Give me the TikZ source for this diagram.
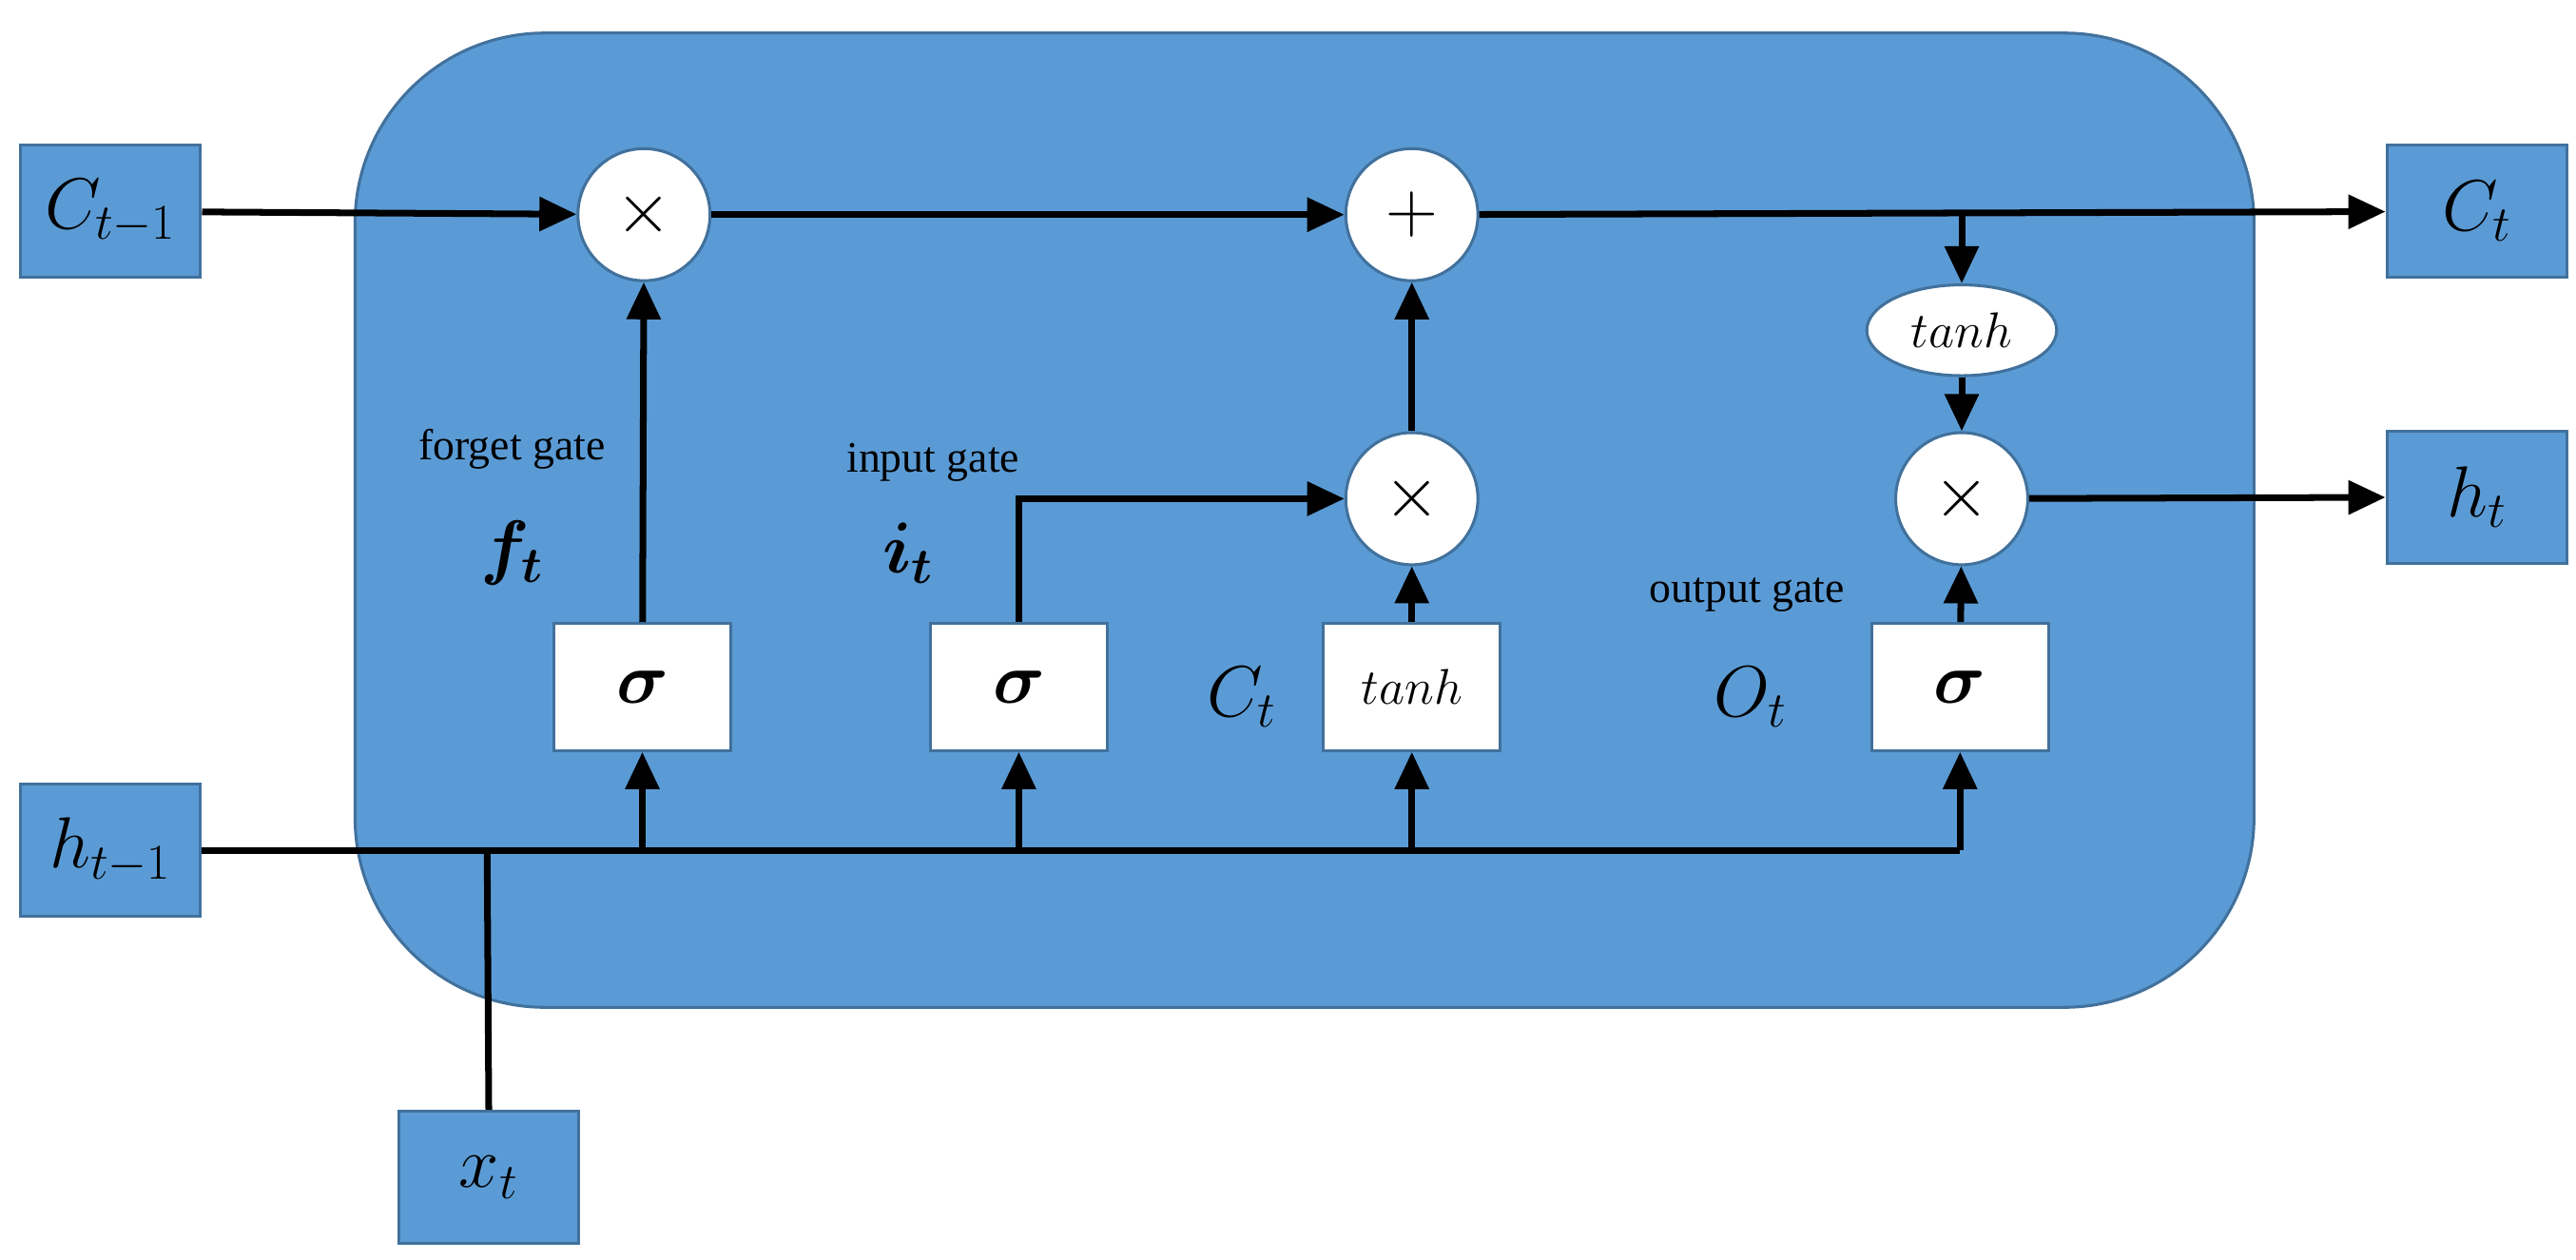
\documentclass[tikz,border=0pt]{standalone}
\usepackage{fontspec}
\setmainfont{Liberation Serif}
\usepackage{amsmath,bm}
\usetikzlibrary{arrows.meta,shapes.geometric}
\definecolor{cellblue}{HTML}{5B9BD5}
\definecolor{edgeblue}{HTML}{41719C}
\begin{document}
\begin{tikzpicture}[x=0.02cm,y=-0.02cm,
  io/.style={draw=edgeblue,line width=1pt,fill=cellblue,minimum width=2.18cm,minimum height=1.6cm,inner sep=0pt,font=\fontsize{24}{28}\selectfont},
  op/.style={circle,draw=edgeblue,line width=1pt,fill=white,minimum size=1.6cm,inner sep=0pt,font=\fontsize{24}{28}\selectfont},
  gate/.style={draw=edgeblue,line width=1pt,fill=white,minimum width=2.14cm,minimum height=1.54cm,inner sep=0pt},
  lab/.style={font=\fontsize{15}{18}\selectfont,inner sep=0pt},
  mlab/.style={font=\fontsize{24}{28}\selectfont,inner sep=0pt},
  ln/.style={line width=2.3pt},
  ar/.style={line width=2.3pt,-{Triangle[length=0.45cm,width=0.4cm]}}]
\useasboundingbox (0,0) rectangle (1560,763);
\draw[fill=cellblue,draw=edgeblue,line width=1pt,rounded corners=2.3cm] (215,20) rectangle (1365,610);
\node[io] (cin) at (67,128) {$C_{t-1}$};
\node[io] (hin) at (67,515) {$h_{t-1}$};
\node[io] (xin) at (296,713) {$x_t$};
\node[io] (cout) at (1500,128) {$C_t$};
\node[io] (hout) at (1500,301) {$h_t$};
\node[op] (m1) at (390,130) {$\times$};
\node[op] (p1) at (855,130) {$+$};
\node[op] (m2) at (855,302) {$\times$};
\node[op] (m3) at (1188,302) {$\times$};
\node[ellipse,draw=edgeblue,line width=1pt,fill=white,minimum width=2.3cm,minimum height=1.1cm,inner sep=0pt,font=\fontsize{19}{22}\selectfont] (th) at (1188,200) {$tanh$};
\node[gate,font=\fontsize{30}{34}\selectfont] (s1) at (389,416) {$\bm{\sigma}$};
\node[gate,font=\fontsize{30}{34}\selectfont] (s2) at (617,416) {$\bm{\sigma}$};
\node[gate,font=\fontsize{19}{22}\selectfont] (t2) at (855,416) {$tanh$};
\node[gate,font=\fontsize{30}{34}\selectfont] (s3) at (1187,416) {$\bm{\sigma}$};
\node[lab] (l1) at (310,272) {forget gate};
\node[mlab] (f) at (310,335) {$\bm{f_t}$};
\node[lab] (l2) at (565,280) {input gate};
\node[mlab] (i) at (550,335) {$\bm{i_t}$};
\node[mlab] (c) at (752,422) {$C_t$};
\node[lab] (l3) at (1058,360) {output gate};
\node[mlab] (o) at (1060,422) {$O_t$};
\coordinate (b0) at (295,515);
\coordinate (b1) at (389,515);
\coordinate (b2) at (617,515);
\coordinate (b3) at (855,515);
\coordinate (b4) at (1187,515);
\coordinate (tap) at (1188,130);
\draw[ar] (cin) -- (m1);
\draw[ar] (m1) -- (p1);
\draw[ar] (p1) -- (cout);
\draw[ar] (tap) -- (th);
\draw[ar] (th) -- (m3);
\draw[ar] (m3) -- (hout);
\draw[ar] (s1) -- (m1);
\draw[ar] (m2) -- (p1);
\draw[ar] (t2) -- (m2);
\draw[ar] (s3) -- (m3);
\draw[ar] (s2.north) |- (m2);
\draw[ln] (hin.east) -- (b4);
\draw[ln] (xin.north) -- (b0);
\draw[ar] (b1) -- (s1);
\draw[ar] (b2) -- (s2);
\draw[ar] (b3) -- (t2);
\draw[ar] (b4) -- (s3);
\end{tikzpicture}
\end{document}
